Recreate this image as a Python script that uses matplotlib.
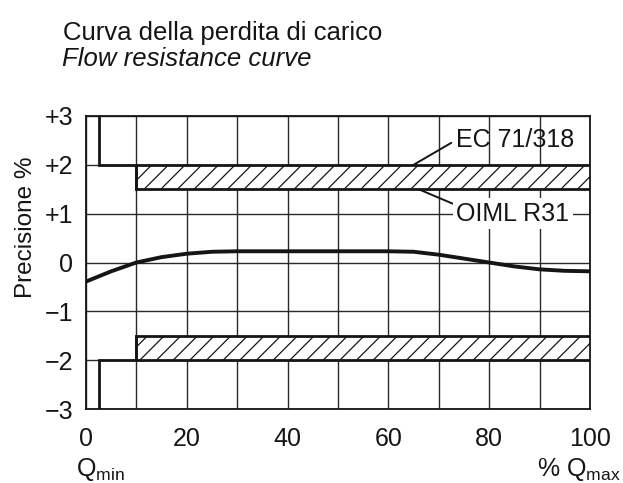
import matplotlib.pyplot as plt

plt.rcParams['font.family'] = ['Liberation Sans', 'DejaVu Sans']
plt.rcParams['hatch.linewidth'] = 0.9

# Measured error curve (% of Qmax vs accuracy %)
curve_x = [0, 5, 10, 15, 20, 25, 30, 40, 50, 60, 65, 70, 75, 80, 85, 90, 95, 100]
curve_y = [-0.39, -0.18, 0.0, 0.11, 0.18, 0.22, 0.23, 0.23, 0.23, 0.23, 0.22, 0.16, 0.08, 0.0, -0.08, -0.14, -0.17, -0.18]

# Limits
q_min = 2.5
q_t = 10
outer_limit = 2.0
inner_limit = 1.5

x_ticks = [0, 20, 40, 60, 80, 100]
y_ticks = [-3, -2, -1, 0, 1, 2, 3]
y_tick_labels = ['\u22123', '\u22122', '\u22121', '0', '+1', '+2', '+3']

ink = '#151515'
fs = 18

fig = plt.figure(figsize=(6.23, 4.83), dpi=100)
ax = fig.add_axes([0.138, 0.153, 0.809, 0.607])

ax.set_xlim(0, 100)
ax.set_ylim(-3, 3)

# Grid every 10 % and every 1 %
ax.set_xticks(range(0, 101, 10), minor=True)
ax.set_xticks(x_ticks)
ax.set_yticks(y_ticks)
ax.set_yticklabels(y_tick_labels)
ax.tick_params(which='both', length=0, labelsize=fs, colors=ink)
ax.tick_params(axis='x', pad=13)
ax.tick_params(axis='y', pad=9)
ax.grid(True, which='both', color='#2a2a2a', linewidth=1.0)
ax.set_axisbelow(True)
for sp in ax.spines.values():
    sp.set_linewidth(1.3)
    sp.set_color(ink)

# Hatched tolerance bands
for sign in (1, -1):
    ax.fill_between([q_t, 100], sign * inner_limit, sign * outer_limit,
                    facecolor='white', edgecolor=ink, hatch='//',
                    linewidth=2.0, zorder=3)
    ax.plot([q_min, q_min, q_t, q_t], [sign * 3, sign * outer_limit, sign * outer_limit, sign * inner_limit],
            color=ink, linewidth=2.0, zorder=4, solid_joinstyle='miter')

# Error curve
ax.plot(curve_x, curve_y, color=ink, linewidth=2.8, zorder=5)

# Annotations
ax.annotate('EC 71/318', xy=(65, 2.0), xytext=(73.5, 2.51), fontsize=fs,
            va='center', ha='left', color=ink,
            arrowprops=dict(arrowstyle='-', color=ink, lw=1.4, shrinkA=2, shrinkB=0,
                            relpos=(0, 0.5)),
            zorder=6)
ax.annotate('OIML R31', xy=(66, 1.5), xytext=(73.5, 1.0), fontsize=fs,
            va='center', ha='left', color=ink,
            bbox=dict(boxstyle='square,pad=0.15', facecolor='white', edgecolor='none'),
            arrowprops=dict(arrowstyle='-', color=ink, lw=1.4, shrinkA=0, shrinkB=0,
                            relpos=(0, 0.85)),
            zorder=6)

ax.set_ylabel('Precisione %', fontsize=17.5, color=ink)
ax.yaxis.set_label_coords(-0.097, 0.62)

fig.text(0.122, 0.014, 'Q$_{\\mathregular{min}}$', fontsize=fs, color=ink, va='baseline')
fig.text(0.996, 0.014, '% Q$_{\\mathregular{max}}$', fontsize=fs, color=ink, ha='right', va='baseline')

fig.text(0.101, 0.918, 'Curva della perdita di carico', fontsize=18.5, color=ink, va='baseline')
fig.text(0.099, 0.864, 'Flow resistance curve', fontsize=18.5, color=ink, style='italic', va='baseline')

fig.savefig('out.png', dpi=100)
